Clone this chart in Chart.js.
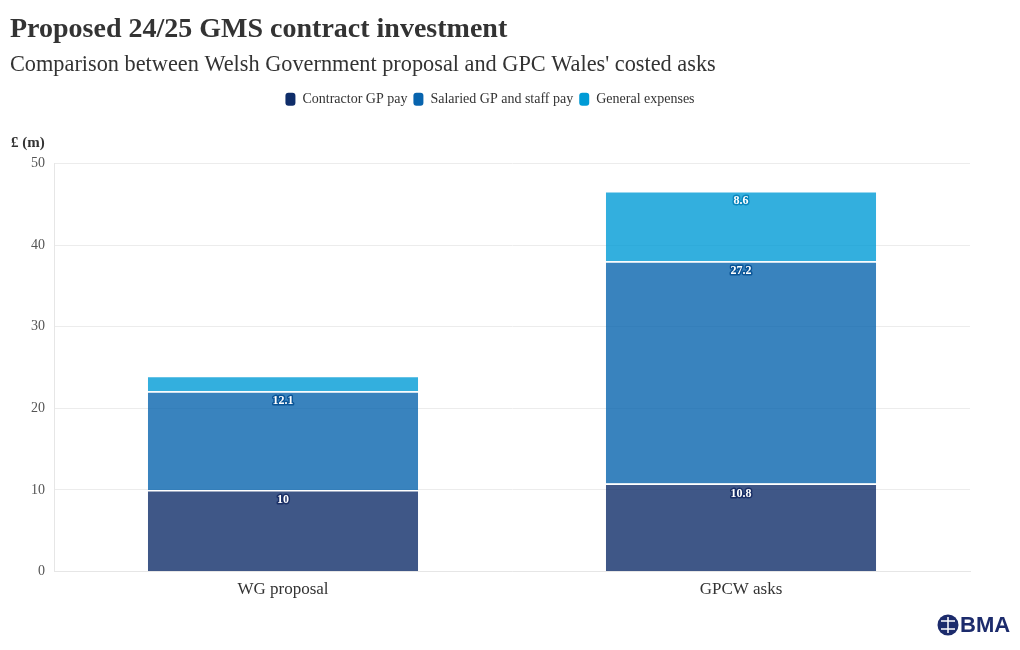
<!DOCTYPE html>
<html>
<head>
<meta charset="utf-8">
<script src="https://cdn.jsdelivr.net/npm/chart.js@4"></script>
<style>
  html, body { margin: 0; padding: 0; background: #fff; }
  #wrap { width: 1020px; height: 650px; position: relative; }
</style>
</head>
<body>
<div id="wrap"><canvas id="gms_chart" width="1020" height="650"></canvas></div>
<script>
const categories = ["WG proposal", "GPCW asks"];
const contractorPay = [10, 10.8];
const salariedPay = [12.1, 27.2];
const generalExpenses = [1.9, 8.6];
const yTicks = [0, 10, 20, 30, 40, 50];

const serif = "'Liberation Serif', 'Times New Roman', serif";

// values drawn on top of each segment (small ones left out)
const barLabels = {
    id: 'barLabels',
    afterDatasetsDraw(chart) {
        const ctx = chart.ctx;
        ctx.save();
        ctx.font = "bold 12px " + serif;
        ctx.textAlign = 'center';
        ctx.textBaseline = 'middle';
        ctx.lineJoin = 'round';
        chart.data.datasets.forEach((ds, i) => {
            const meta = chart.getDatasetMeta(i);
            meta.data.forEach((bar, j) => {
                const v = ds.data[j];
                if (v < 3) return;
                ctx.lineWidth = 3;
                ctx.strokeStyle = ds.haloColor;
                ctx.strokeText(String(v), bar.x, bar.y + 10);
                ctx.fillStyle = '#fff';
                ctx.fillText(String(v), bar.x, bar.y + 10);
            });
        });
        ctx.restore();
    }
};

// extra room under the legend for the unit label
const legendGap = {
    id: 'legendGap',
    beforeInit(chart) {
        const fit = chart.legend.fit;
        chart.legend.fit = function() {
            fit.bind(chart.legend)();
            this.height += 47;
        };
    }
};

// axis unit above the y axis and the BMA mark
const extras = {
    id: 'extras',
    afterDraw(chart) {
        const ctx = chart.ctx;
        ctx.save();
        ctx.fillStyle = '#333';
        ctx.font = "bold 15px " + serif;
        ctx.textBaseline = 'middle';
        ctx.textAlign = 'left';
        ctx.fillText("£ (m)", 11, 143);

        ctx.fillStyle = '#1c2b6c';
        ctx.beginPath();
        ctx.arc(948, 625, 10.5, 0, Math.PI * 2);
        ctx.fill();
        ctx.strokeStyle = '#fff';
        ctx.lineWidth = 1.5;
        ctx.beginPath();
        ctx.moveTo(941, 621); ctx.lineTo(955, 621);
        ctx.moveTo(941, 629); ctx.lineTo(955, 629);
        ctx.moveTo(948, 617); ctx.lineTo(948, 633);
        ctx.stroke();
        ctx.fillStyle = '#1c2b6c';
        ctx.font = "bold 22px 'Liberation Sans', Arial, sans-serif";
        ctx.fillText("BMA", 960, 626);
        ctx.restore();
    }
};

const ctx = document.getElementById("gms_chart");
const gms_chart = new Chart(ctx, {
    type: 'bar',
    data: {
        labels: categories,
        datasets: [{
            label: "Contractor GP pay",
            data: contractorPay,
            backgroundColor: "rgba(15, 45, 105, 0.8)",
            legendColor: "#0f2d69",
            haloColor: "#1a2f66",
        }, {
            label: "Salaried GP and staff pay",
            data: salariedPay,
            backgroundColor: "rgba(8, 100, 174, 0.8)",
            legendColor: "#0864ae",
            haloColor: "#0b5597",
        }, {
            label: "General expenses",
            data: generalExpenses,
            backgroundColor: "rgba(0, 155, 214, 0.8)",
            legendColor: "#009bd6",
            haloColor: "#0a86bd",
        }]
    },
    options: {
        responsive: false,
        animation: false,
        devicePixelRatio: 1,
        layout: {
            padding: { left: 10, right: 50, top: 4, bottom: 50 }
        },
        datasets: {
            bar: {
                categoryPercentage: 1.0,
                barPercentage: 0.59,
                borderColor: '#fff',
                borderWidth: { top: 1.5 },
                borderSkipped: false
            }
        },
        plugins: {
            title: {
                display: true,
                text: "Proposed 24/25 GMS contract investment",
                align: 'start',
                color: '#333',
                font: { family: serif, size: 28, weight: 'bold' },
                padding: { top: 9, bottom: 5 }
            },
            subtitle: {
                display: true,
                text: "Comparison between Welsh Government proposal and GPC Wales' costed asks",
                align: 'start',
                color: '#333',
                font: { family: serif, size: 22.3 },
                padding: { bottom: 8 }
            },
            legend: {
                position: 'top',
                labels: {
                    color: '#333',
                    font: { family: serif, size: 14 },
                    boxWidth: 10,
                    boxHeight: 13,
                    useBorderRadius: true,
                    borderRadius: 3,
                    padding: 6,
                    generateLabels(chart) {
                        return chart.data.datasets.map((ds, i) => ({
                            text: ds.label,
                            fillStyle: ds.legendColor,
                            strokeStyle: ds.legendColor,
                            lineWidth: 0,
                            borderRadius: 3,
                            datasetIndex: i,
                            fontColor: '#333'
                        }));
                    }
                }
            },
            tooltip: { enabled: false }
        },
        scales: {
            x: {
                stacked: true,
                grid: { display: false },
                border: { color: '#e6e6e6' },
                ticks: { color: '#333', font: { family: serif, size: 17 }, padding: 0 }
            },
            y: {
                stacked: true,
                min: 0,
                max: 50,
                afterBuildTicks(axis) {
                    axis.ticks = yTicks.map(v => ({ value: v }));
                },
                grid: { color: '#ececec', drawTicks: false },
                border: { color: '#e6e6e6' },
                ticks: { color: '#555', font: { family: serif, size: 14 }, padding: 9 },
                afterFit(axis) { axis.width = 44; }
            }
        }
    },
    plugins: [legendGap, barLabels, extras]
});
</script>
</body>
</html>
